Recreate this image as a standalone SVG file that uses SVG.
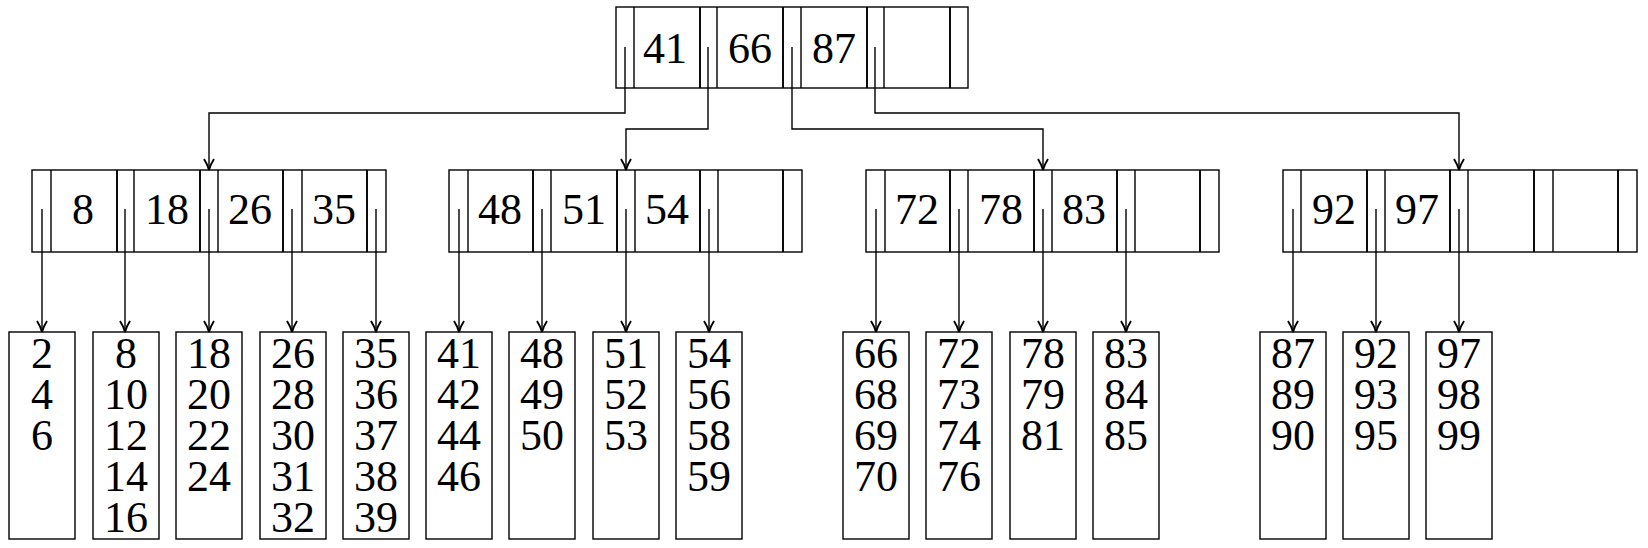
<svg xmlns="http://www.w3.org/2000/svg" width="1648" height="548" viewBox="0 0 1648 548">
<style>
.box{fill:#fff;stroke:#000;stroke-width:1.4}
.div{stroke:#000;stroke-width:1.4;fill:none}
.thick{stroke:#000;stroke-width:1.9;fill:none}
.k{font-size:44px;fill:#000;text-anchor:middle}
.c{stroke:#000;stroke-width:1.4;fill:none}
</style>
<defs>
<marker id="ah" markerUnits="userSpaceOnUse" markerWidth="16" markerHeight="14" viewBox="-13 -7 14 14" refX="0" refY="0" orient="auto" overflow="visible">
<path d="M-11,-5 Q-5,-1.2 0,0 Q-5,1.2 -11,5" fill="none" stroke="#000" stroke-width="1.9"/>
</marker>
</defs>
<g font-family="Liberation Serif, Nimbus Roman, FreeSerif, Noto Serif, DejaVu Serif, Times, serif">
<g id="root">
<rect class="box" x="616" y="7" width="352" height="81"/>
<path class="div" d="M634,7V88M717,7V88M801,7V88M884,7V88"/>
<path class="thick" d="M700,7V88M783,7V88M867,7V88M950,7V88"/>
<text class="k" x="665" y="63">41</text>
<text class="k" x="750" y="63">66</text>
<text class="k" x="834" y="63">87</text>
</g>

<g id="n1">
<rect class="box" x="32" y="170" width="354" height="82"/>
<path class="div" d="M51,170V252M134,170V252M218,170V252M302,170V252"/>
<path class="thick" d="M117,170V252M200,170V252M283,170V252M367,170V252"/>
<text class="k" x="83" y="224">8</text>
<text class="k" x="167" y="224">18</text>
<text class="k" x="250" y="224">26</text>
<text class="k" x="334" y="224">35</text>
</g>

<g id="n2">
<rect class="box" x="449" y="170" width="353" height="82"/>
<path class="div" d="M468,170V252M551,170V252M635,170V252M718,170V252"/>
<path class="thick" d="M533,170V252M617,170V252M700,170V252M783,170V252"/>
<text class="k" x="500" y="224">48</text>
<text class="k" x="584" y="224">51</text>
<text class="k" x="667" y="224">54</text>
</g>

<g id="n3">
<rect class="box" x="866" y="170" width="353" height="82"/>
<path class="div" d="M885,170V252M968,170V252M1052,170V252M1135,170V252"/>
<path class="thick" d="M950,170V252M1034,170V252M1117,170V252M1200,170V252"/>
<text class="k" x="917" y="224">72</text>
<text class="k" x="1001" y="224">78</text>
<text class="k" x="1084" y="224">83</text>
</g>

<g id="n4">
<rect class="box" x="1283" y="170" width="354" height="82"/>
<path class="div" d="M1301,170V252M1385,170V252M1468,170V252M1553,170V252"/>
<path class="thick" d="M1367,170V252M1450,170V252M1534,170V252M1618,170V252"/>
<text class="k" x="1334" y="224">92</text>
<text class="k" x="1417" y="224">97</text>
</g>

<g id="leaf-2">
<rect class="box" x="9" y="332" width="66" height="207"/>
<text class="k" x="42" y="368">2</text><text class="k" x="42" y="409">4</text><text class="k" x="42" y="450">6</text>
</g>
<g id="leaf-8">
<rect class="box" x="93" y="332" width="66" height="207"/>
<text class="k" x="126" y="368">8</text><text class="k" x="126" y="409">10</text><text class="k" x="126" y="450">12</text><text class="k" x="126" y="491">14</text><text class="k" x="126" y="532">16</text>
</g>
<g id="leaf-18">
<rect class="box" x="176" y="332" width="66" height="207"/>
<text class="k" x="209" y="368">18</text><text class="k" x="209" y="409">20</text><text class="k" x="209" y="450">22</text><text class="k" x="209" y="491">24</text>
</g>
<g id="leaf-26">
<rect class="box" x="260" y="332" width="66" height="207"/>
<text class="k" x="293" y="368">26</text><text class="k" x="293" y="409">28</text><text class="k" x="293" y="450">30</text><text class="k" x="293" y="491">31</text><text class="k" x="293" y="532">32</text>
</g>
<g id="leaf-35">
<rect class="box" x="343" y="332" width="66" height="207"/>
<text class="k" x="376" y="368">35</text><text class="k" x="376" y="409">36</text><text class="k" x="376" y="450">37</text><text class="k" x="376" y="491">38</text><text class="k" x="376" y="532">39</text>
</g>
<g id="leaf-41">
<rect class="box" x="426" y="332" width="66" height="207"/>
<text class="k" x="459" y="368">41</text><text class="k" x="459" y="409">42</text><text class="k" x="459" y="450">44</text><text class="k" x="459" y="491">46</text>
</g>
<g id="leaf-48">
<rect class="box" x="509" y="332" width="66" height="207"/>
<text class="k" x="542" y="368">48</text><text class="k" x="542" y="409">49</text><text class="k" x="542" y="450">50</text>
</g>
<g id="leaf-51">
<rect class="box" x="593" y="332" width="66" height="207"/>
<text class="k" x="626" y="368">51</text><text class="k" x="626" y="409">52</text><text class="k" x="626" y="450">53</text>
</g>
<g id="leaf-54">
<rect class="box" x="676" y="332" width="66" height="207"/>
<text class="k" x="709" y="368">54</text><text class="k" x="709" y="409">56</text><text class="k" x="709" y="450">58</text><text class="k" x="709" y="491">59</text>
</g>
<g id="leaf-66">
<rect class="box" x="843" y="332" width="66" height="207"/>
<text class="k" x="876" y="368">66</text><text class="k" x="876" y="409">68</text><text class="k" x="876" y="450">69</text><text class="k" x="876" y="491">70</text>
</g>
<g id="leaf-72">
<rect class="box" x="926" y="332" width="66" height="207"/>
<text class="k" x="959" y="368">72</text><text class="k" x="959" y="409">73</text><text class="k" x="959" y="450">74</text><text class="k" x="959" y="491">76</text>
</g>
<g id="leaf-78">
<rect class="box" x="1010" y="332" width="66" height="207"/>
<text class="k" x="1043" y="368">78</text><text class="k" x="1043" y="409">79</text><text class="k" x="1043" y="450">81</text>
</g>
<g id="leaf-83">
<rect class="box" x="1093" y="332" width="66" height="207"/>
<text class="k" x="1126" y="368">83</text><text class="k" x="1126" y="409">84</text><text class="k" x="1126" y="450">85</text>
</g>
<g id="leaf-87">
<rect class="box" x="1260" y="332" width="66" height="207"/>
<text class="k" x="1293" y="368">87</text><text class="k" x="1293" y="409">89</text><text class="k" x="1293" y="450">90</text>
</g>
<g id="leaf-92">
<rect class="box" x="1343" y="332" width="66" height="207"/>
<text class="k" x="1376" y="368">92</text><text class="k" x="1376" y="409">93</text><text class="k" x="1376" y="450">95</text>
</g>
<g id="leaf-97">
<rect class="box" x="1426" y="332" width="66" height="207"/>
<text class="k" x="1459" y="368">97</text><text class="k" x="1459" y="409">98</text><text class="k" x="1459" y="450">99</text>
</g>
</g>
<g id="connectors">
<path class="c" marker-end="url(#ah)" d="M625,47V113H209V170"/>
<path class="c" marker-end="url(#ah)" d="M708,47V129H626V170"/>
<path class="c" marker-end="url(#ah)" d="M792,47V129H1043V170"/>
<path class="c" marker-end="url(#ah)" d="M875,47V113H1459V170"/>
<path class="c" marker-end="url(#ah)" d="M42,209V332"/>
<path class="c" marker-end="url(#ah)" d="M125,209V332"/>
<path class="c" marker-end="url(#ah)" d="M209,209V332"/>
<path class="c" marker-end="url(#ah)" d="M292,209V332"/>
<path class="c" marker-end="url(#ah)" d="M376,209V332"/>
<path class="c" marker-end="url(#ah)" d="M459,209V332"/>
<path class="c" marker-end="url(#ah)" d="M542,209V332"/>
<path class="c" marker-end="url(#ah)" d="M626,209V332"/>
<path class="c" marker-end="url(#ah)" d="M709,209V332"/>
<path class="c" marker-end="url(#ah)" d="M876,209V332"/>
<path class="c" marker-end="url(#ah)" d="M959,209V332"/>
<path class="c" marker-end="url(#ah)" d="M1043,209V332"/>
<path class="c" marker-end="url(#ah)" d="M1126,209V332"/>
<path class="c" marker-end="url(#ah)" d="M1293,209V332"/>
<path class="c" marker-end="url(#ah)" d="M1376,209V332"/>
<path class="c" marker-end="url(#ah)" d="M1459,209V332"/>
</g>
</svg>
